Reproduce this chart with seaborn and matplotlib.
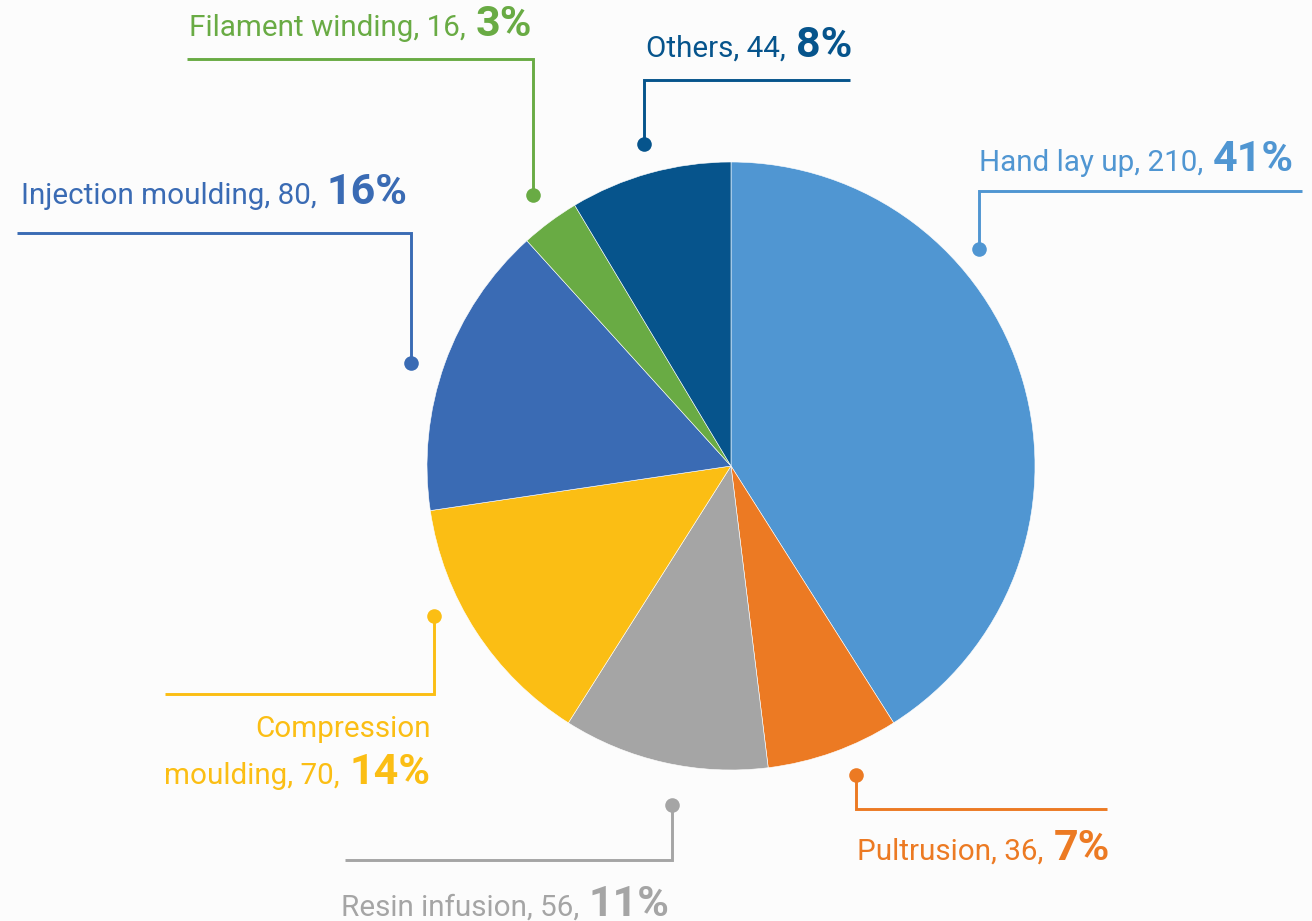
import matplotlib
matplotlib.use("Agg")
import matplotlib.pyplot as plt
import seaborn as sns

# ---------------------------- #
# DATA
# ---------------------------- #
methods = ["Hand lay up", "Pultrusion", "Resin infusion", "Compression\nmoulding",
           "Injection moulding", "Filament winding", "Others"]
counts = [210, 36, 56, 70, 80, 16, 44]
percents = [41, 7, 11, 14, 16, 3, 8]
colors = ["#5096d2", "#ec7a23", "#a5a5a5", "#fbbe14", "#3a6bb4", "#69ab44", "#06548c"]

W, H = 1312, 921
BG = "#fcfcfc"

# label layout in pixels: dot, elbow y, end of horizontal line, text x, baseline y, alignment
layout = {
    "Hand lay up":           dict(dot=(979, 249), elbow=191, end=1302, tx=979, ty=171, ha="left"),
    "Pultrusion":            dict(dot=(856, 775), elbow=809, end=1107, tx=857, ty=860, ha="left"),
    "Resin infusion":        dict(dot=(672, 805), elbow=860, end=345, tx=670, ty=916, ha="right"),
    "Compression\nmoulding": dict(dot=(434, 616), elbow=694, end=165, tx=431, ty=784, ha="right"),
    "Injection moulding":    dict(dot=(411, 363), elbow=233, end=17, tx=408, ty=204, ha="right"),
    "Filament winding":      dict(dot=(533, 195), elbow=59, end=187, tx=532, ty=36, ha="right"),
    "Others":                dict(dot=(644, 144), elbow=80, end=850, tx=646, ty=57, ha="left"),
}

sns.set_theme(style="white")
plt.rcParams["font.family"] = ["Roboto", "DejaVu Sans"]
palette = sns.color_palette(colors)

fig = plt.figure(figsize=(W / 100, H / 100), dpi=100, facecolor=BG)
ax = fig.add_axes([0, 0, 1, 1])
ax.set_facecolor(BG)

# y axis is inverted below, so -90 is the top and counterclock runs clockwise on screen
ax.pie(counts, colors=palette, startangle=-90, counterclock=True,
       center=(731, 466), radius=304,
       wedgeprops=dict(edgecolor="white", linewidth=0.4))

ax.set_xlim(0, W)
ax.set_ylim(H, 0)
ax.set_aspect("equal")
ax.axis("off")

renderer = fig.canvas.get_renderer()
NORMAL = 21.3
BOLD = 31
GAP = 10
LINE_STEP = 47

for name, cnt, pct, col in zip(methods, counts, percents, palette):
    lay = layout[name]
    dx, dy = lay["dot"]
    ax.plot([dx, dx, lay["end"]], [dy, lay["elbow"], lay["elbow"]], color=col, lw=2.1,
            solid_capstyle="butt", solid_joinstyle="miter")
    ax.plot(dx, dy, "o", ms=10.5, color=col, mec="none")

    lines = name.split("\n")
    last = f"{lines[-1]}, {cnt},"
    tx, ty = lay["tx"], lay["ty"]
    if lay["ha"] == "left":
        t1 = ax.text(tx, ty, last, ha="left", va="baseline", fontsize=NORMAL, color=col)
        w = t1.get_window_extent(renderer).width
        ax.text(tx + w + GAP, ty, f"{pct}%", ha="left", va="baseline",
                fontsize=BOLD, fontweight="bold", color=col)
    else:
        t2 = ax.text(tx, ty, f"{pct}%", ha="right", va="baseline",
                     fontsize=BOLD, fontweight="bold", color=col)
        w = t2.get_window_extent(renderer).width
        ax.text(tx - w - GAP, ty, last, ha="right", va="baseline", fontsize=NORMAL, color=col)
    # extra lines above (two-line label)
    for i, ln in enumerate(reversed(lines[:-1]), start=1):
        ax.text(tx, ty - i * LINE_STEP, ln, ha=lay["ha"], va="baseline",
                fontsize=NORMAL, color=col)

fig.savefig("out.png", dpi=100, facecolor=BG)
